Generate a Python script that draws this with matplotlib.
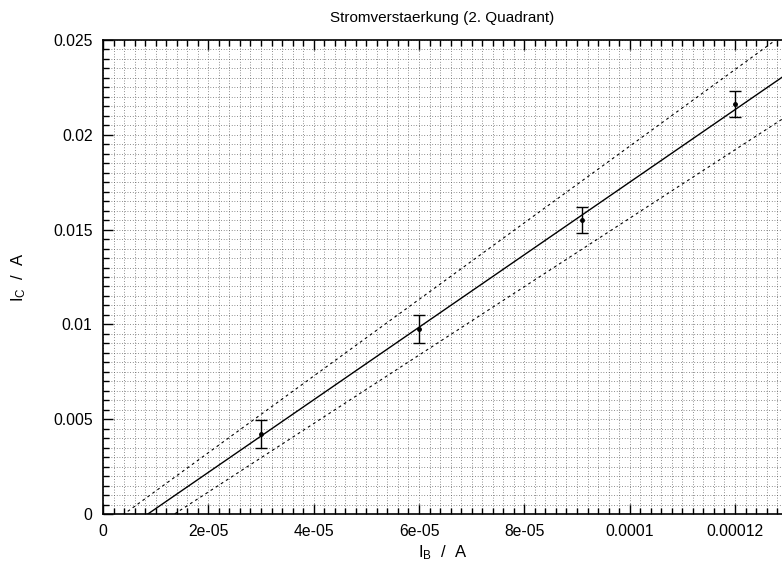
import numpy as np
import matplotlib
matplotlib.use("Agg")
import matplotlib.pyplot as plt
from matplotlib.ticker import FixedLocator, FixedFormatter, MultipleLocator

# measured base current / collector current
i_b = [3.0e-05, 6.0e-05, 9.1e-05, 1.2e-04]
i_c = [0.00422, 0.00975, 0.01550, 0.02163]
i_c_err = [0.00072, 0.00072, 0.00070, 0.00070]

# linear fit I_C = m * I_B + b, and the two limiting lines
fit_m, fit_b = 191.3, -0.00163
upper_m, upper_b = 202.1, -0.00081
lower_m, lower_b = 180.5, -0.00245

x_ticks = [0, 2e-05, 4e-05, 6e-05, 8e-05, 0.0001, 0.00012]
x_labels = ["0", "2e-05", "4e-05", "6e-05", "8e-05", "0.0001", "0.00012"]
y_ticks = [0, 0.005, 0.01, 0.015, 0.02, 0.025]
y_labels = ["0", "0.005", "0.01", "0.015", "0.02", "0.025"]

plt.rcParams['font.family'] = ['Liberation Sans', 'DejaVu Sans']
plt.rcParams['font.size'] = 11.3

fig = plt.figure(figsize=(7.82, 5.62), dpi=100)
ax = fig.add_axes([103 / 782, 48 / 562, 679 / 782, 474 / 562])

x_max = 1.2892e-4
ax.set_xlim(0, x_max)
ax.set_ylim(0, 0.025)

xs = np.array([0, x_max])
ax.plot(xs, fit_m * xs + fit_b, color='black', lw=1.0, zorder=3)
ax.plot(xs, upper_m * xs + upper_b, color='black', lw=0.8, ls=(0, (2.5, 3)), zorder=3)
ax.plot(xs, lower_m * xs + lower_b, color='black', lw=0.8, ls=(0, (2.5, 3)), zorder=3)

ax.errorbar(i_b, i_c, yerr=i_c_err, fmt='o', color='black', ms=2.5,
            capsize=4, elinewidth=1.0, capthick=1.0, zorder=4)

ax.xaxis.set_major_locator(FixedLocator(x_ticks))
ax.xaxis.set_major_formatter(FixedFormatter(x_labels))
ax.xaxis.set_minor_locator(MultipleLocator(2e-06))
ax.yaxis.set_major_locator(FixedLocator(y_ticks))
ax.yaxis.set_major_formatter(FixedFormatter(y_labels))
ax.yaxis.set_minor_locator(MultipleLocator(0.0005))

ax.tick_params(which='both', direction='in', top=True, right=False, width=1.0, colors='black')
ax.tick_params(which='major', length=7, pad=7.5)
ax.tick_params(which='minor', length=4)

ax.grid(which='both', color='0.3', lw=0.55, ls=(0, (1, 2.5)))
ax.set_axisbelow(True)

for side in ['left', 'bottom', 'top']:
    ax.spines[side].set_linewidth(1.2)
ax.spines['right'].set_visible(False)

ax.set_title("Stromverstaerkung (2. Quadrant)", fontsize=11, pad=13)
ax.set_xlabel(r"$\mathregular{I_B}$  /  A", fontsize=12)
ax.set_ylabel(r"$\mathregular{I_C}$  /  A", fontsize=12)
ax.xaxis.set_label_coords(0.5, (514 - 543) / 474)
ax.yaxis.set_label_coords((28 - 103) / 679, 0.5)

fig.savefig("out.png", dpi=100)
